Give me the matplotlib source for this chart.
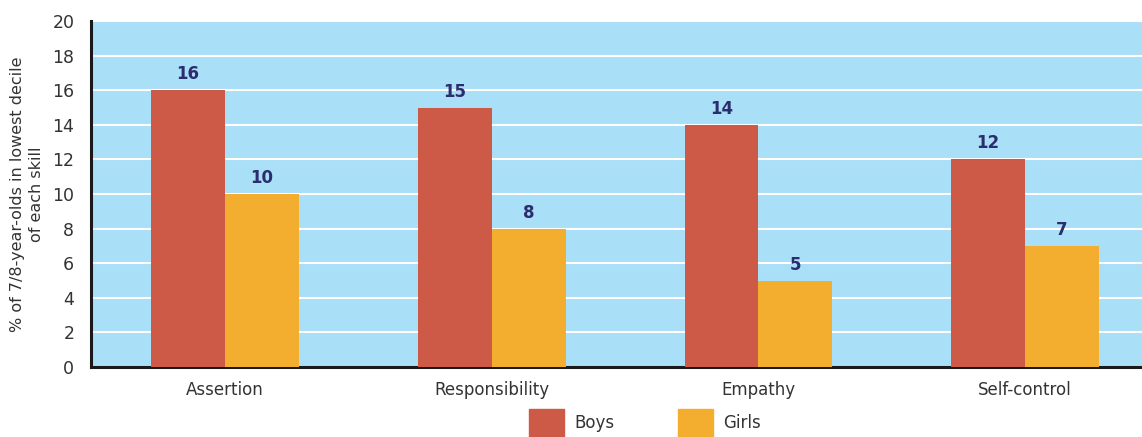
import numpy as np
import matplotlib.pyplot as plt
from matplotlib.patches import Patch

skills = ['Assertion', 'Responsibility', 'Empathy', 'Self-control']
boys = [16, 15, 14, 12]
girls = [10, 8, 5, 7]

color_boys = '#CC5A46'
color_girls = '#F3AE30'
label_color = '#2B2D6E'
bg = '#AADFF8'

plt.rcParams['font.family'] = ['DejaVu Sans']

fig = plt.figure(figsize=(11.42, 4.37), dpi=100)
ax = fig.add_axes([91 / 1142, 1 - 367 / 437, 1051 / 1142, 346 / 437])
ax.set_facecolor(bg)

x = np.arange(len(skills))
w = 0.277
b1 = ax.bar(x - w / 2, boys, w, color=color_boys, zorder=3)
b2 = ax.bar(x + w / 2, girls, w, color=color_girls, zorder=3)

for bars, vals in [(b1, boys), (b2, girls)]:
    for rect, v in zip(bars, vals):
        ax.annotate(str(v), (rect.get_x() + rect.get_width() / 2, v),
                    xytext=(0, 5), textcoords='offset points',
                    ha='center', va='bottom', fontsize=12,
                    fontweight='bold', color=label_color)

ax.set_ylim(0, 20)
ax.set_xlim(-0.502, 3.438)
ax.set_yticks(range(0, 21, 2))
ax.set_xticks(x)
ax.set_xticklabels(skills)
ax.tick_params(length=0, labelsize=12, colors='#333333')
ax.tick_params(axis='y', pad=12, labelsize=12.5)
ax.tick_params(axis='x', pad=10)
ax.yaxis.grid(True, color='white', linewidth=1.5, zorder=1)
ax.set_axisbelow(True)

for s in ['top', 'right']:
    ax.spines[s].set_visible(False)
for s in ['left', 'bottom']:
    ax.spines[s].set_linewidth(2.2)
    ax.spines[s].set_color('#1a1a1a')

ax.set_ylabel('% of 7/8-year-olds in lowest decile\nof each skill',
              fontsize=11.5, color='#333333', labelpad=6, linespacing=1.3)

handles = [Patch(color=color_boys, label='Boys'),
           Patch(color=color_girls, label='Girls')]
fig.legend(handles=handles, loc='center', ncol=2, frameon=False,
           bbox_to_anchor=(645 / 1142, 1 - 423 / 437), fontsize=12,
           handlelength=2.1, handleheight=2.2, handletextpad=0.6,
           columnspacing=3.8, labelcolor='#333333')

plt.savefig('out.png', dpi=100)
